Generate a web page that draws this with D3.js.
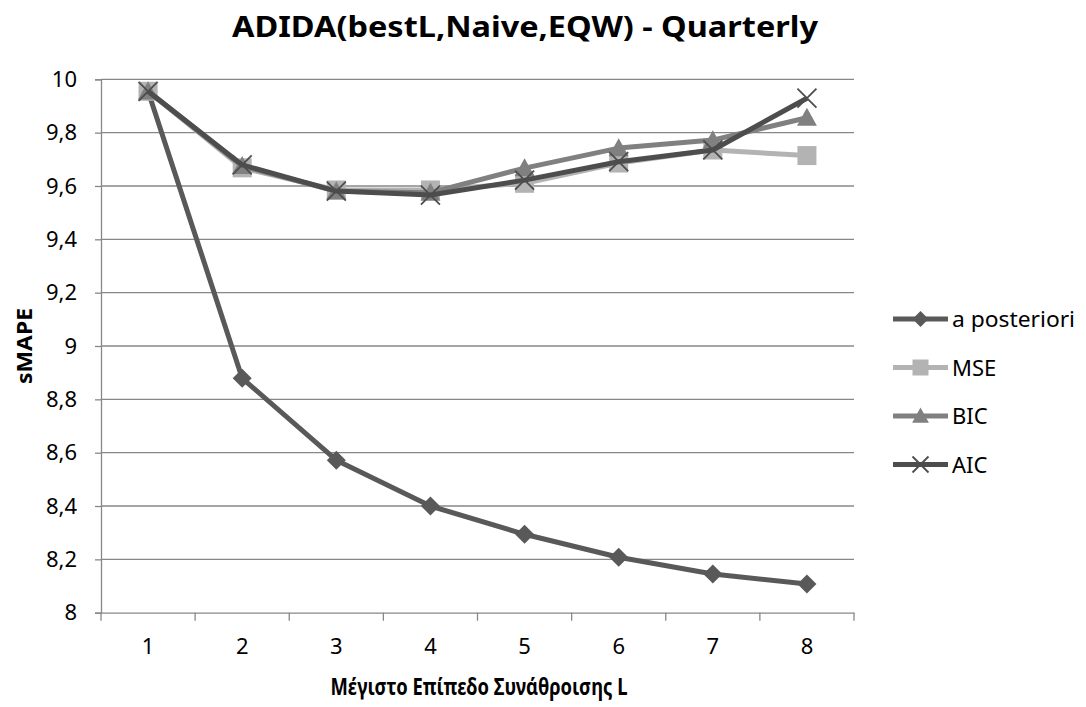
<!DOCTYPE html>
<html>
<head>
<meta charset="utf-8">
<script src="https://cdn.jsdelivr.net/npm/d3@7"></script>
<style>
  body { margin: 0; background: #fff; }
  text { font-family: "Noto Sans", "Open Sans", sans-serif; fill: #000; }
</style>
</head>
<body>
<div id="chart"></div>
<script>
const categories = [1, 2, 3, 4, 5, 6, 7, 8];
const yTicks = [8, 8.2, 8.4, 8.6, 8.8, 9, 9.2, 9.4, 9.6, 9.8, 10];

const aPosteriori = [9.955, 8.879, 8.572, 8.400, 8.294, 8.208, 8.145, 8.108];
const mse = [9.955, 9.668, 9.585, 9.585, 9.610, 9.686, 9.735, 9.714];
const bic = [9.955, 9.675, 9.580, 9.575, 9.667, 9.742, 9.772, 9.856];
const aic = [9.955, 9.679, 9.581, 9.566, 9.622, 9.691, 9.735, 9.929];

const seriesList = [
  { name: "a posteriori", values: aPosteriori, color: "#595959", marker: "diamond" },
  { name: "MSE", values: mse, color: "#b3b3b3", marker: "square" },
  { name: "BIC", values: bic, color: "#808080", marker: "triangle" },
  { name: "AIC", values: aic, color: "#4d4d4d", marker: "cross" }
];

const width = 1086, height = 707;
const plot = { left: 101, right: 854, top: 79.3, bottom: 612.7 };

const svg = d3.select("#chart").append("svg")
  .attr("width", width)
  .attr("height", height);

const x = d3.scaleBand().domain(categories).range([plot.left, plot.right]);
const y = d3.scaleLinear().domain([8, 10]).range([plot.bottom, plot.top]);
const cx = d => x(d) + x.bandwidth() / 2;

// gridlines
svg.append("g")
  .selectAll("line")
  .data(yTicks.slice(1))
  .enter().append("line")
  .attr("x1", plot.left).attr("x2", plot.right)
  .attr("y1", d => y(d)).attr("y2", d => y(d))
  .attr("stroke", "#878787")
  .attr("stroke-width", 1.3);

// y axis
const yAxis = svg.append("g")
  .attr("transform", `translate(${plot.left},0)`)
  .call(d3.axisLeft(y).tickValues(yTicks).tickSize(6).tickPadding(18)
    .tickFormat(d => String(d).replace(".", ",")));
yAxis.select(".domain").attr("stroke", "#878787").attr("stroke-width", 1.3);
yAxis.selectAll(".tick line").attr("stroke", "#878787").attr("stroke-width", 1.3);
yAxis.selectAll(".tick text").style("font-size", "22px").attr("fill", "#000");

// x axis
const xAxis = svg.append("g")
  .attr("transform", `translate(0,${plot.bottom})`)
  .call(d3.axisBottom(x).tickSize(0).tickPadding(26));
xAxis.select(".domain").attr("stroke", "#878787").attr("stroke-width", 1.3);
xAxis.selectAll(".tick text").style("font-size", "22px").attr("fill", "#000");
xAxis.selectAll(".tick line").remove();
xAxis.selectAll(".edge")
  .data(categories.concat(["end"]))
  .enter().append("line")
  .attr("x1", (d, i) => plot.left + i * x.bandwidth())
  .attr("x2", (d, i) => plot.left + i * x.bandwidth())
  .attr("y1", 0).attr("y2", 8)
  .attr("stroke", "#878787").attr("stroke-width", 1.3);

// markers
function drawMarker(g, type, color, s) {
  if (type === "diamond") {
    g.append("path").attr("d", `M0,${-s}L${s},0L0,${s}L${-s},0Z`).attr("fill", color);
  } else if (type === "square") {
    g.append("rect").attr("x", -s).attr("y", -s)
      .attr("width", s * 2).attr("height", s * 2).attr("fill", color);
  } else if (type === "triangle") {
    g.append("path").attr("d", `M0,${-s * 1.05}L${s * 1.05},${s * 0.85}L${-s * 1.05},${s * 0.85}Z`).attr("fill", color);
  } else {
    g.append("path").attr("d", `M${-s},${-s}L${s},${s}M${s},${-s}L${-s},${s}`)
      .attr("stroke", color).attr("stroke-width", 1.8).attr("fill", "none");
  }
}

const line = d3.line().x((d, i) => cx(categories[i])).y(d => y(d));

seriesList.forEach(s => {
  const g = svg.append("g");
  g.append("path")
    .datum(s.values)
    .attr("d", line)
    .attr("fill", "none")
    .attr("stroke", s.color)
    .attr("stroke-width", 5)
    .attr("stroke-linejoin", "round");
  s.values.forEach((v, i) => {
    const m = g.append("g").attr("transform", `translate(${cx(categories[i])},${y(v)})`);
    drawMarker(m, s.marker, s.color, 9.5);
  });
});

// legend
const legend = svg.append("g");
seriesList.forEach((s, i) => {
  const ly = 319 + i * 48.5;
  const item = legend.append("g").attr("transform", `translate(893,${ly})`);
  item.append("line").attr("x1", 0).attr("x2", 55).attr("y1", 0).attr("y2", 0)
    .attr("stroke", s.color).attr("stroke-width", 5);
  const m = item.append("g").attr("transform", "translate(27.5,0)");
  drawMarker(m, s.marker, s.color, 8);
  item.append("text").attr("x", 59).attr("y", 8)
    .style("font-size", "22px")
    .attr("textLength", s.name === "a posteriori" ? 123 : null)
    .attr("lengthAdjust", "spacingAndGlyphs")
    .text(s.name);
});

// titles
svg.append("text")
  .attr("x", 525).attr("y", 37)
  .attr("text-anchor", "middle")
  .style("font-size", "29px").style("font-weight", "bold")
  .attr("textLength", 586).attr("lengthAdjust", "spacingAndGlyphs")
  .text("ADIDA(bestL,Naive,EQW) - Quarterly");

svg.append("text")
  .attr("transform", "translate(32,346) rotate(-90)")
  .attr("text-anchor", "middle")
  .style("font-size", "21px").style("font-weight", "bold")
  .attr("textLength", 76).attr("lengthAdjust", "spacingAndGlyphs")
  .text("sMAPE");

svg.append("text")
  .attr("x", 479).attr("y", 695)
  .attr("text-anchor", "middle")
  .style("font-size", "23px").style("font-weight", "bold")
  .attr("textLength", 297).attr("lengthAdjust", "spacingAndGlyphs")
  .text("Μέγιστο Επίπεδο Συνάθροισης L");
</script>
</body>
</html>
